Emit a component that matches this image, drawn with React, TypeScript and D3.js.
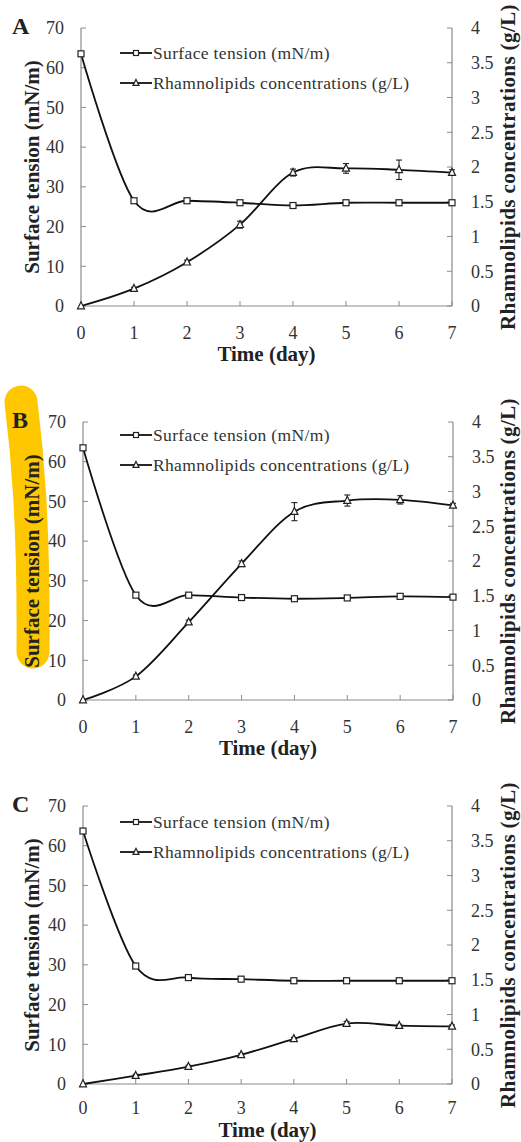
import React from 'react';
import * as d3 from 'd3';

// values
const days = [0, 1, 2, 3, 4, 5, 6, 7];

const tensionA = [63.5, 26.5, 26.5, 26.0, 25.3, 26.0, 26.0, 26.0];
const rhamA = [0, 0.25, 0.63, 1.17, 1.92, 1.98, 1.96, 1.92];
const rhamErrA = [0, 0.02, 0.03, 0.05, 0.05, 0.07, 0.14, 0.04];

const tensionB = [63.5, 26.4, 26.4, 25.8, 25.5, 25.7, 26.1, 25.9];
const rhamB = [0, 0.34, 1.12, 1.96, 2.71, 2.87, 2.88, 2.8];
const rhamErrB = [0, 0.02, 0.03, 0.04, 0.13, 0.08, 0.06, 0.03];

const tensionC = [63.7, 29.7, 26.8, 26.4, 26.0, 26.0, 26.0, 26.0];
const rhamC = [0, 0.12, 0.25, 0.42, 0.65, 0.87, 0.84, 0.83];
const rhamErrC = [0, 0.02, 0.02, 0.02, 0.02, 0.03, 0.02, 0.02];

const leftTicks = [0, 10, 20, 30, 40, 50, 60, 70];
const rightTicks = [0, 0.5, 1, 1.5, 2, 2.5, 3, 3.5, 4];

const panelLetters = ['A', 'B', 'C'];
const legendLabels = ['Surface tension (mN/m)', 'Rhamnolipids concentrations (g/L)'];
const xTitle = 'Time (day)';
const leftTitle = 'Surface tension (mN/m)';
const rightTitle = 'Rhamnolipids concentrations (g/L)';

const W = 521;
const H = 1142;
const serif = '"Liberation Serif", "Times New Roman", serif';
const axisGray = '#8a8a8a';

const layout = [
  { top: 28, left: 81, right: 452, legendY: 25, tickDy: 33, titleDy: 55 },
  { top: 422, left: 83, right: 453, legendY: 13, tickDy: 33, titleDy: 55 },
  { top: 806, left: 83, right: 452, legendY: 16, tickDy: 30, titleDy: 53 },
];
const plotH = 278;

const Square = ({ x, y, s = 6 }) => (
  <rect x={x - s / 2} y={y - s / 2} width={s} height={s} fill="#fff" stroke="#222" strokeWidth={1.2} />
);

const Triangle = ({ x, y, s = 7 }) => (
  <path
    d={`M${x},${y - s * 0.6}L${x + s / 2},${y + s * 0.4}L${x - s / 2},${y + s * 0.4}Z`}
    fill="#fff"
    stroke="#222"
    strokeWidth={1.2}
  />
);

function Panel({ idx, tension, rham, rhamErr }) {
  const { top, left, right, legendY, tickDy, titleDy } = layout[idx];
  const bottom = top + plotH;
  const x = d3.scaleLinear().domain([0, 7]).range([left, right]);
  const yL = d3.scaleLinear().domain([0, 70]).range([bottom, top]);
  const yR = d3.scaleLinear().domain([0, 4]).range([bottom, top]);
  const curve = d3.curveCardinal.tension(0);
  const lineT = d3.line<number>().x((d, i) => x(days[i])).y(d => yL(d)).curve(curve);
  const lineR = d3.line<number>().x((d, i) => x(days[i])).y(d => yR(d)).curve(curve);
  const midY = (top + bottom) / 2;
  const lgX = 120;

  return (
    <g>
      {/* axes */}
      <line x1={left} x2={left} y1={top} y2={bottom} stroke={axisGray} strokeWidth={1.2} />
      <line x1={right} x2={right} y1={top} y2={bottom} stroke={axisGray} strokeWidth={1.2} />
      <line x1={left} x2={right} y1={bottom} y2={bottom} stroke={axisGray} strokeWidth={1.2} />
      {leftTicks.map(t => (
        <g key={'l' + t}>
          <line x1={left} x2={left + 5} y1={yL(t)} y2={yL(t)} stroke={axisGray} />
          <text x={left - 17} y={yL(t)} dy="0.35em" textAnchor="end" fontSize={18} fill="#333">
            {t}
          </text>
        </g>
      ))}
      {rightTicks.map(t => (
        <g key={'r' + t}>
          <line x1={right - 5} x2={right} y1={yR(t)} y2={yR(t)} stroke={axisGray} />
          <text x={right + 19} y={yR(t)} dy="0.35em" textAnchor="start" fontSize={18} fill="#333">
            {d3.format('~g')(t)}
          </text>
        </g>
      ))}
      {days.map(d => (
        <g key={'x' + d}>
          <line x1={x(d)} x2={x(d)} y1={bottom} y2={bottom - 5} stroke={axisGray} />
          <text x={x(d)} y={bottom + tickDy} textAnchor="middle" fontSize={18} fill="#333">
            {d}
          </text>
        </g>
      ))}

      {/* titles */}
      <text x={(left + right) / 2} y={bottom + titleDy} textAnchor="middle" fontSize={21} fontWeight="bold" fill="#222">
        {xTitle}
      </text>
      <text
        transform={`translate(39,${midY}) rotate(-90)`}
        textAnchor="middle"
        fontSize={21}
        fontWeight="bold"
        fill="#222"
      >
        {leftTitle}
      </text>
      <text
        transform={`translate(515,${midY}) rotate(-90)`}
        textAnchor="middle"
        fontSize={21}
        letterSpacing={0.4}
        fontWeight="bold"
        fill="#222"
      >
        {rightTitle}
      </text>
      <text x={12} y={top + 6} fontSize={24} fontWeight="bold" fill="#222">
        {panelLetters[idx]}
      </text>

      {/* series */}
      <path d={lineT(tension) || ''} fill="none" stroke="#111" strokeWidth={1.8} />
      <path d={lineR(rham) || ''} fill="none" stroke="#111" strokeWidth={1.8} />
      {rham.map((v, i) =>
        rhamErr[i] > 0 ? (
          <g key={'e' + i} stroke="#222" strokeWidth={1.1}>
            <line x1={x(days[i])} x2={x(days[i])} y1={yR(v - rhamErr[i])} y2={yR(v + rhamErr[i])} />
            <line x1={x(days[i]) - 3} x2={x(days[i]) + 3} y1={yR(v - rhamErr[i])} y2={yR(v - rhamErr[i])} />
            <line x1={x(days[i]) - 3} x2={x(days[i]) + 3} y1={yR(v + rhamErr[i])} y2={yR(v + rhamErr[i])} />
          </g>
        ) : null
      )}
      {tension.map((v, i) => (
        <Square key={'s' + i} x={x(days[i])} y={yL(v)} />
      ))}
      {rham.map((v, i) => (
        <Triangle key={'t' + i} x={x(days[i])} y={yR(v)} />
      ))}

      {/* legend */}
      {legendLabels.map((lab, i) => {
        const ly = top + legendY + i * 30;
        return (
          <g key={lab}>
            <line x1={lgX} x2={lgX + 32} y1={ly} y2={ly} stroke="#111" strokeWidth={1.8} />
            {i === 0 ? <Square x={lgX + 16} y={ly} s={5} /> : <Triangle x={lgX + 16} y={ly} s={6} />}
            <text x={lgX + 33} y={ly} dy="0.35em" fontSize={17.5} letterSpacing={0.35} fill="#333">
              {lab}
            </text>
          </g>
        );
      })}
    </g>
  );
}

export default function App() {
  return (
    <svg
      width={W}
      height={H}
      style={{ position: 'absolute', left: 0, top: 0, background: '#fff' }}
      fontFamily={serif}
    >
      <rect width={W} height={H} fill="#fff" />
      {/* yellow highlighter stroke over panel B label */}
      <path d="M21,402 C27,450 34,520 33,652" fill="none" stroke="#fdc800" strokeWidth={33} strokeLinecap="round" />
      <Panel idx={0} tension={tensionA} rham={rhamA} rhamErr={rhamErrA} />
      <Panel idx={1} tension={tensionB} rham={rhamB} rhamErr={rhamErrB} />
      <Panel idx={2} tension={tensionC} rham={rhamC} rhamErr={rhamErrC} />
    </svg>
  );
}
